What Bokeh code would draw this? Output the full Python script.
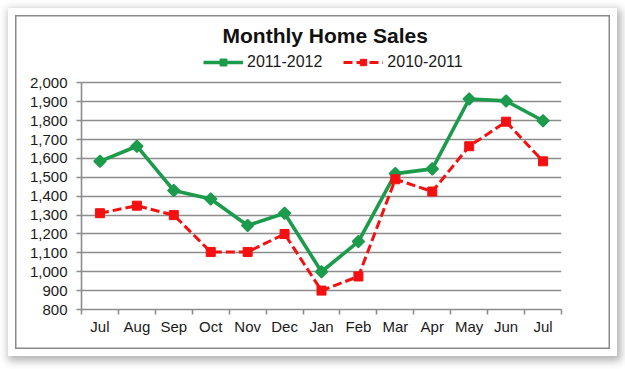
import math
from bokeh.plotting import figure
from bokeh.models import FixedTicker, NumeralTickFormatter, Range1d, Legend, LegendItem
from bokeh.embed import file_html
from bokeh.resources import INLINE

months = ["Jul", "Aug", "Sep", "Oct", "Nov", "Dec", "Jan", "Feb", "Mar", "Apr", "May", "Jun", "Jul"]
sales_2011_2012 = [1585, 1665, 1430, 1385, 1245, 1310, 1000, 1160, 1520, 1545, 1915, 1905, 1800]
sales_2010_2011 = [1310, 1350, 1300, 1105, 1105, 1200, 900, 975, 1490, 1425, 1665, 1795, 1585]
y_ticks = list(range(800, 2001, 100))
y_min, y_max = 800, 2000

xs = list(range(len(months)))
FONT = "Liberation Sans"
GREEN = "#1d9b4c"
RED = "#f41010"
GRID = "#8c8c8c"

# extra head-room above y_max holds the legend inside the frame
p = figure(width=609, height=348, output_backend="svg", toolbar_location=None,
           x_range=Range1d(-0.5, len(months) - 0.5), y_range=Range1d(y_min, 2188),
           min_border_left=73, min_border_right=56, min_border_top=39, min_border_bottom=47,
           title="Monthly Home Sales")
p.border_fill_color = None
p.background_fill_color = None
p.styles = {"position": "relative", "left": "8px", "top": "8px",
            "outline": "1.5px solid #8a8a8a", "outline-offset": "-8.5px",
            "box-shadow": "inset 0 0 0 7px #ffffff, inset 0 0 0 8.5px #8a8a8a, 2px 3px 8px 2px #b4b4b4",
            "background": "#ffffff"}

p.title.align = "left"
p.title.text_font = FONT
p.title.text_font_size = "21px"
p.title.text_font_style = "bold"
p.title.text_color = "#111111"
p.title.offset = 141
p.title.standoff = 2

p.outline_line_color = None
p.xgrid.grid_line_color = None
p.ygrid.grid_line_color = GRID
p.ygrid.grid_line_width = 1.6
p.ygrid.ticker = FixedTicker(ticks=y_ticks)

p.yaxis.ticker = FixedTicker(ticks=y_ticks)
p.yaxis.bounds = (y_min, y_max)
p.yaxis.formatter = NumeralTickFormatter(format="0,0")
p.yaxis.axis_line_color = GRID
p.yaxis.axis_line_width = 1.6
p.yaxis.major_tick_line_color = GRID
p.yaxis.major_tick_line_width = 1.6
p.yaxis.major_tick_out = 5
p.yaxis.major_tick_in = 0
p.yaxis.minor_tick_line_color = None
p.yaxis.major_label_text_font = FONT
p.yaxis.major_label_text_font_size = "15px"
p.yaxis.major_label_text_color = "#1a1a1a"
p.yaxis.major_label_standoff = 9

boundaries = [i - 0.5 for i in range(len(months) + 1)]
p.xaxis.ticker = FixedTicker(ticks=xs, minor_ticks=boundaries)
p.xaxis.major_label_overrides = {i: m for i, m in enumerate(months)}
p.xaxis.axis_line_color = GRID
p.xaxis.axis_line_width = 1.6
p.xaxis.major_tick_line_color = None
p.xaxis.minor_tick_line_color = GRID
p.xaxis.minor_tick_line_width = 1.6
p.xaxis.minor_tick_out = 5
p.xaxis.minor_tick_in = 0
p.xaxis.major_label_text_font = FONT
p.xaxis.major_label_text_font_size = "15px"
p.xaxis.major_label_text_color = "#1a1a1a"
p.xaxis.major_label_standoff = 2

g_line = p.line(xs, sales_2011_2012, line_color=GREEN, line_width=3.6)
g_mark = p.scatter(xs, sales_2011_2012, marker="square", angle=math.pi / 4, size=8.5,
                   fill_color=GREEN, line_color=GREEN, line_width=1.5)
r_line = p.line(xs, sales_2010_2011, line_color=RED, line_width=3, line_dash="9 4")
r_mark = p.scatter(xs, sales_2010_2011, marker="square", size=9, fill_color=RED, line_color=RED)

legend = Legend(items=[LegendItem(label="2011-2012", renderers=[g_line, g_mark]),
                       LegendItem(label="2010-2011", renderers=[r_line, r_mark])],
                orientation="horizontal", location=(122, 238),
                label_text_font=FONT, label_text_font_size="16px", label_text_color="#1a1a1a",
                glyph_width=40, glyph_height=16, label_standoff=4, spacing=21,
                border_line_color=None, background_fill_alpha=0, padding=0, margin=0)
p.add_layout(legend)

open("out.html", "w").write(file_html(p, INLINE))
